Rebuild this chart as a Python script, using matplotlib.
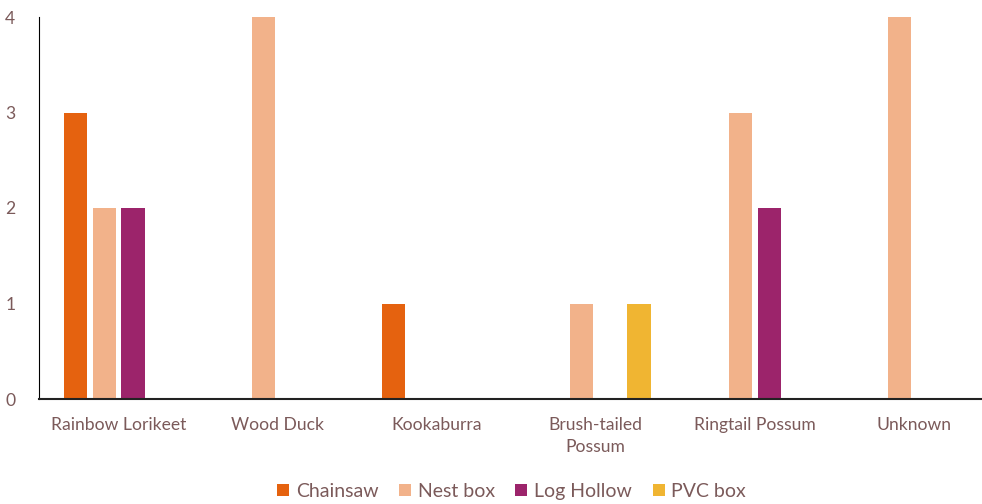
import matplotlib
matplotlib.use("Agg")
from matplotlib import pyplot as plt
import numpy as np

species = ["Rainbow Lorikeet", "Wood Duck", "Kookaburra", "Brush-tailed\nPossum", "Ringtail Possum", "Unknown"]
chainsaw = [3, 0, 1, 0, 0, 0]
nest_box = [2, 4, 0, 1, 3, 4]
log_hollow = [2, 0, 0, 0, 2, 0]
pvc_box = [0, 0, 0, 1, 0, 0]

series = [("Chainsaw", chainsaw, "#E5620F"),
          ("Nest box", nest_box, "#F2B28A"),
          ("Log Hollow", log_hollow, "#9C246B"),
          ("PVC box", pvc_box, "#F0B532")]

txt = "#7B5A5A"
plt.rcParams['font.family'] = ['Lato', 'DejaVu Sans']

fig = plt.figure(figsize=(9.82, 5.04), dpi=100)
ax = fig.add_axes([39/982, 105/504, 943/982, 382/504])

x = np.arange(len(species))
step = 0.182
width = 0.145
for i, (name, vals, col) in enumerate(series):
    ax.bar(x + (i - 1.5) * step, vals, width, color=col, label=name)

ax.set_xlim(-0.5, 5.43)
ax.set_ylim(0, 4)
ax.set_yticks([0, 1, 2, 3, 4])
ax.set_xticks(x)
ax.set_xticklabels(species, fontsize=12.6, color=txt, linespacing=1.45)
ax.tick_params(axis='y', length=0, pad=17, labelsize=12.6, labelcolor=txt)
ax.tick_params(axis='x', length=0, pad=13)
ax.spines['top'].set_visible(False)
ax.spines['right'].set_visible(False)
ax.spines['left'].set_color('black')
ax.spines['bottom'].set_color('#222222')
ax.spines['bottom'].set_linewidth(1.5)

leg = fig.legend(loc='center', bbox_to_anchor=(0.521, 0.025), ncol=4, frameon=False,
                 fontsize=14, handlelength=0.62, handleheight=0.62, handletextpad=0.35,
                 columnspacing=1.05)
for t in leg.get_texts():
    t.set_color(txt)

fig.savefig("out.png", dpi=100)
